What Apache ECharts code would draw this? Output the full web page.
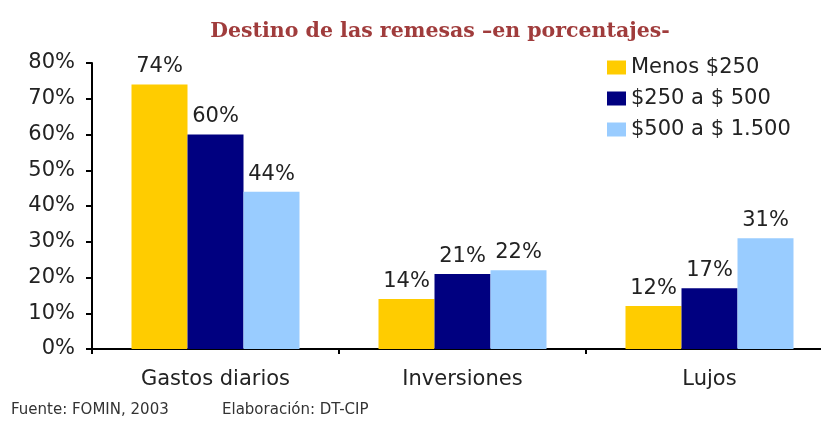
<!DOCTYPE html>
<html>
<head>
<meta charset="utf-8">
<script src="https://cdn.jsdelivr.net/npm/echarts@6/dist/echarts.min.js"></script>
<style>
html,body{margin:0;padding:0;background:#fff;overflow:hidden;}
#chart{width:835px;height:423px;}
</style>
</head>
<body>
<div id="chart"></div>
<script>
var categories = ['Gastos diarios', 'Inversiones', 'Lujos'];
var seriesNames = ['Menos $250', '$250 a $ 500', '$500 a $ 1.500'];
var menos250 = [74, 14, 12];
var de250a500 = [60, 21, 17];
var de500a1500 = [44, 22, 31];
var colors = ['#ffcc00', '#000080', '#99ccff'];

var chart = echarts.init(document.getElementById('chart'));

function barSeries(name, data, color) {
	return {
		name: name,
		type: 'bar',
		data: data,
		barWidth: 56,
		barGap: '0%',
		itemStyle: { color: color },
		label: {
			show: true,
			position: 'top',
			distance: 7,
			formatter: '{c}%',
			color: '#222',
			fontFamily: 'DejaVu Sans',
			fontSize: 21
		}
	};
}

var option = {
	animation: false,
	backgroundColor: '#fff',
	title: {
		text: 'Destino de las remesas –en porcentajes-',
		left: 435,
		textAlign: 'center',
		top: 16,
		textStyle: {
			fontFamily: 'DejaVu Serif',
			fontWeight: 'bold',
			fontSize: 20.5,
			color: '#a03c3c'
		}
	},
	legend: {
		orient: 'vertical',
		left: 602,
		top: 52,
		itemWidth: 19,
		itemHeight: 14,
		itemGap: 10,
		icon: 'rect',
		data: seriesNames,
		textStyle: {
			fontFamily: 'DejaVu Sans',
			fontSize: 21,
			color: '#222'
		}
	},
	grid: { left: 92, top: 63, width: 741, height: 286, containLabel: false },
	xAxis: {
		type: 'category',
		data: categories,
		axisLine: { lineStyle: { color: '#000', width: 2 } },
		axisTick: { show: true, length: 5, lineStyle: { color: '#000', width: 2 } },
		axisLabel: {
			margin: 20,
			fontFamily: 'DejaVu Sans',
			fontSize: 21,
			color: '#222'
		}
	},
	yAxis: {
		type: 'value',
		min: 0,
		max: 80,
		interval: 10,
		axisLine: { show: true, lineStyle: { color: '#000', width: 2 } },
		axisTick: { show: true, length: 6, lineStyle: { color: '#000', width: 2 } },
		splitLine: { show: false },
		axisLabel: {
			margin: 17,
			formatter: '{value}%',
			fontFamily: 'DejaVu Sans',
			fontSize: 21,
			color: '#222'
		}
	},
	graphic: [
		{ type: 'text', left: 11, top: 403, style: { text: 'Fuente: FOMIN, 2003', font: '15px "DejaVu Sans"', fill: '#333' } },
		{ type: 'text', left: 222, top: 403, style: { text: 'Elaboración: DT-CIP', font: '15px "DejaVu Sans"', fill: '#333' } }
	],
	series: [
		barSeries(seriesNames[0], menos250, colors[0]),
		barSeries(seriesNames[1], de250a500, colors[1]),
		barSeries(seriesNames[2], de500a1500, colors[2])
	]
};

chart.setOption(option);
window.addEventListener('resize', function(){
	chart.resize();
});
</script>
</body>
</html>
